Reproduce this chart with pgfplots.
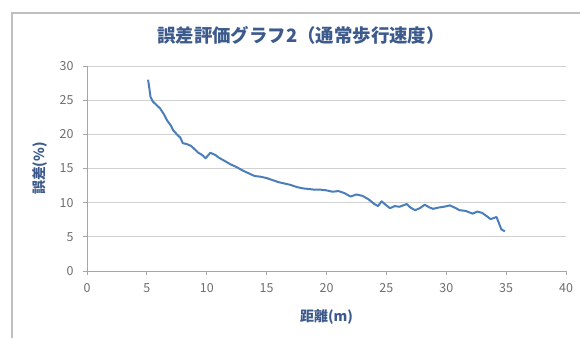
\documentclass[border=0pt]{standalone}
\usepackage{pgfplots}
\pgfplotsset{compat=1.18}
\usepackage{fontspec}
\setmainfont{Noto Sans CJK JP}
\definecolor{ttl}{RGB}{60,90,140}
\definecolor{ser}{RGB}{74,126,187}
\definecolor{tk}{RGB}{110,110,110}
\begin{document}
\begin{tikzpicture}[x=1bp,y=1bp]
\path[use as bounding box] (0,0) rectangle (580,338);
\draw[color=black!25,line width=2bp] (12,0) -- (12,325) -- (580,325);
\node[font=\fontsize{18.5}{20}\selectfont\bfseries,text=ttl] at (301,303) {誤差評価グラフ2（通常歩行速度）};
\begin{axis}[
  at={(87bp,67bp)}, anchor=south west,
  scale only axis, width=479bp, height=205bp,
  xmin=0, xmax=40, ymin=0, ymax=30,
  xtick={0,5,...,40}, ytick={0,5,...,30},
  axis x line*=bottom, axis y line*=left,
  axis line style={black!35, line width=0.8bp},
  tick style={black!35, line width=0.8bp},
  tick align=outside, major tick length=4bp,
  ymajorgrids, grid style={black!18, line width=0.8bp},
  tick label style={font=\fontsize{12.5}{14}\selectfont, text=tk},
  /pgf/number format/assume math mode=true,
  xticklabel style={yshift=-5bp},
  yticklabel style={xshift=-6bp},
  xlabel={距離(m)}, ylabel={誤差(\%)},
  x label style={at={(axis description cs:0.5,-0.224)}, anchor=center, font=\fontsize{14}{16}\selectfont\bfseries, text=ttl},
  y label style={at={(axis description cs:-0.098,0.5)}, rotate=0, anchor=center, font=\fontsize{14}{16}\selectfont\bfseries, text=ttl},
  clip=false,
]
\addplot[color=ser, line width=2bp, line join=round] coordinates {
(5.1,28.0) (5.2,26.8) (5.3,25.5) (5.5,24.8) (5.8,24.3) (6.1,23.8) (6.4,23.0)
(6.7,22.0) (7.0,21.3) (7.2,20.6) (7.5,20.0) (7.8,19.5) (8.0,18.7) (8.3,18.6)
(8.7,18.3) (9.0,17.8) (9.3,17.3) (9.6,17.0) (9.9,16.5) (10.3,17.3) (10.7,17.0)
(11.0,16.6) (11.5,16.1) (12.0,15.6) (12.5,15.2) (13.0,14.7) (13.5,14.3) (14.0,13.9)
(14.5,13.8) (15.0,13.6) (15.5,13.3) (16.0,13.0) (16.5,12.8) (17.0,12.6) (17.5,12.3)
(18.0,12.1) (18.5,12.0) (19.0,11.9) (19.5,11.9) (20.0,11.8) (20.5,11.6) (21.0,11.7)
(21.5,11.4) (22.0,10.9) (22.5,11.2) (23.0,11.0) (23.5,10.5) (24.0,9.8) (24.3,9.5)
(24.6,10.2) (25.0,9.6) (25.3,9.2) (25.7,9.5) (26.1,9.4) (26.7,9.8) (27.0,9.3)
(27.4,8.9) (27.8,9.2) (28.2,9.7) (28.6,9.3) (28.9,9.1) (29.4,9.3) (29.8,9.4)
(30.3,9.6) (30.8,9.2) (31.1,8.9) (31.6,8.8) (32.2,8.4) (32.6,8.7) (33.0,8.5)
(33.4,8.0) (33.7,7.6) (34.2,7.9) (34.4,7.0) (34.6,6.1) (34.9,5.8)
};
\end{axis}
\end{tikzpicture}
\end{document}
